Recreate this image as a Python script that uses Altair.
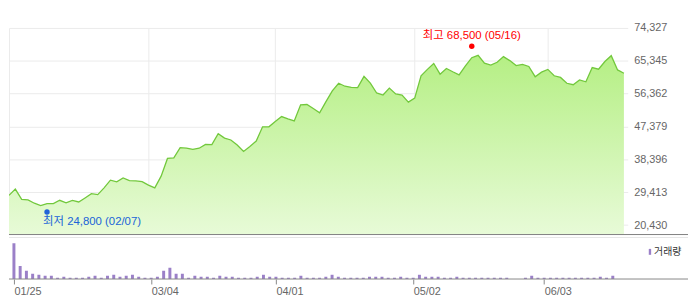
import altair as alt
import pandas as pd

# ---- data (daily close, volume in thousand shares) ----
close = [28550, 30270, 27450, 27300, 26400, 25750, 26300, 26300, 27200, 26500,
         27200, 26750, 27850, 29000, 28750, 30600, 32700, 32250, 33300, 32600,
         32500, 32300, 31350, 30600, 33800, 38650, 38800, 41600, 41450, 41150,
         41450, 42500, 42450, 45400, 44200, 43700, 42300, 40550, 41900, 43400,
         47300, 47300, 48750, 50100, 49450, 48900, 53300, 53400, 52300, 51150,
         54200, 57100, 59200, 58400, 58100, 58000, 61100, 59250, 56550, 56000,
         57900, 56300, 55950, 54050, 55150, 61250, 63000, 64600, 61700, 63250,
         62350, 61500, 63950, 66200, 66850, 64700, 64150, 64950, 66500, 65400,
         64050, 64350, 63800, 61000, 62250, 63000, 61250, 60800, 59200, 58800,
         60100, 59600, 63500, 63050, 65150, 66750, 62850, 61950]

volume = [3630, 1330, 830, 530, 430, 330, 330, 130, 230, 130,
          130, 130, 230, 330, 130, 330, 430, 230, 330, 430,
          230, 130, 130, 230, 830, 1130, 530, 530, 130, 330,
          230, 230, 130, 330, 230, 230, 130, 130, 130, 230,
          430, 230, 230, 130, 130, 130, 330, 130, 130, 130,
          230, 430, 230, 130, 130, 130, 130, 230, 230, 230,
          130, 130, 230, 130, 130, 430, 230, 230, 230, 130,
          130, 230, 130, 130, 130, 130, 130, 130, 130, 130,
          0, 0, 130, 330, 130, 130, 130, 130, 130, 130,
          130, 130, 130, 130, 230, 130, 330, 0]

tick_index = [0, 22, 42, 64, 85]
tick_labels = ["01/25", "03/04", "04/01", "05/02", "06/03"]
y_ticks = [20430, 29413, 38396, 47379, 56362, 65345, 74327]
y_bottom = 17835
vol_max = 4200

high_value, high_date, high_index = 68500, "05/16", 73
low_value, low_date, low_index = 24800, "02/07", 6
volume_name = "거래량"

FONT = "Liberation Sans, Noto Sans CJK KR"

df = pd.DataFrame({"i": list(range(len(close))), "close": close,
                   "volume": volume, "series": volume_name})

W = 626
H_TOP = 209
H_VOL = 42
x_scale = alt.Scale(domain=[0, 97.6], nice=False, zero=False)
y_scale = alt.Scale(domain=[y_bottom, y_ticks[-1]], nice=False, zero=False)

label_expr = "".join(f"datum.value == {i} ? '{l}' : " for i, l in zip(tick_index, tick_labels)) + "''"

x_top = alt.X("i:Q", scale=x_scale,
              axis=alt.Axis(values=tick_index, grid=True, gridColor="#ebebeb",
                            labels=False, ticks=False, domain=False, title=None))
y_top = alt.Y("close:Q", scale=y_scale,
              axis=alt.Axis(orient="right", values=y_ticks, format=",d", grid=True,
                            gridColor="#ebebeb", ticks=False, domain=False,
                            labelPadding=6, labelAlign="left", labelColor="#666666",
                            labelFontSize=11, labelFont=FONT, title=None))

gradient = alt.Gradient(
    gradient="linear",
    stops=[alt.GradientStop(color="#b5ef84", offset=0),
           alt.GradientStop(color="#fafff6", offset=1)],
    x1=1, x2=1, y1=0, y2=1)

base = alt.Chart(df)
area = base.mark_area(color=gradient, clip=True).encode(x=x_top, y=y_top)
line = base.mark_line(color="#72c83c", strokeWidth=1.3, clip=True).encode(x=x_top, y=y_top)

one = pd.DataFrame({"a": [0]})
bottom_rule = alt.Chart(one).mark_rule(color="#808080", strokeWidth=1).encode(
    x=alt.value(0), x2=alt.value(687), y=alt.value(H_TOP))

hi_df = pd.DataFrame({"i": [high_index], "close": [high_value],
                      "label": [f"최고 {high_value:,} ({high_date})"]})
lo_df = pd.DataFrame({"i": [low_index], "close": [low_value],
                      "label": [f"최저 {low_value:,} ({low_date})"]})

hi_pt = alt.Chart(hi_df).mark_circle(size=30, color="#ff0000", opacity=1, yOffset=-3).encode(x=x_top, y=y_top)
hi_txt = alt.Chart(hi_df).mark_text(color="#ff0000", fontSize=11.5, font=FONT, dy=-13,
                                    align="center", baseline="middle").encode(x=x_top, y=y_top, text="label:N")
lo_pt = alt.Chart(lo_df).mark_circle(size=30, color="#2064d8", opacity=1, yOffset=3).encode(x=x_top, y=y_top)
lo_txt = alt.Chart(lo_df).mark_text(color="#2064d8", fontSize=11.5, font=FONT, dx=-4, dy=13.5,
                                    align="left", baseline="middle").encode(x=x_top, y=y_top, text="label:N")

top = alt.layer(area, line, bottom_rule, hi_pt, hi_txt, lo_pt, lo_txt).properties(width=W, height=H_TOP)

x_vol = alt.X("i:Q", scale=x_scale,
              axis=alt.Axis(values=tick_index, labelExpr=label_expr, grid=False, domain=False,
                            ticks=True, tickSize=5, tickColor="#888888", labelAlign="left",
                            labelFlush=False, labelPadding=2, labelColor="#666666",
                            labelFontSize=11, labelFont=FONT, title=None))
bars = base.mark_bar(size=3, clip=True).encode(
    x=x_vol,
    y=alt.Y("volume:Q", scale=alt.Scale(domain=[0, vol_max], nice=False), axis=None),
    color=alt.Color("series:N", scale=alt.Scale(range=["#9b80c8"]),
                    legend=alt.Legend(title=None, orient="none", legendX=641.7,
                                      legendY=H_TOP + 1 + 11.5,
                                      symbolType="M0.2,-1H1V1H0.2Z", symbolSize=36,
                                      symbolStrokeWidth=0, labelOffset=1, labelFontSize=10,
                                      labelFont=FONT, labelColor="#333333", padding=0)),
)
vol_top_rule = alt.Chart(one).mark_rule(color="#e6e6e6", strokeWidth=1).encode(
    x=alt.value(0), x2=alt.value(687), y=alt.value(0))
vol_axis_rule = alt.Chart(one).mark_rule(color="#888888", strokeWidth=1).encode(
    x=alt.value(0), x2=alt.value(687), y=alt.value(H_VOL))

vol = alt.layer(vol_top_rule, bars, vol_axis_rule).properties(width=W, height=H_VOL)

chart = alt.vconcat(top, vol, spacing=1).properties(
    padding={"left": 0, "top": 12.5, "right": 0, "bottom": 0},
    background="white",
).configure_view(stroke=None)

chart.save("out.html", embed_options={"renderer": "svg", "actions": False})
